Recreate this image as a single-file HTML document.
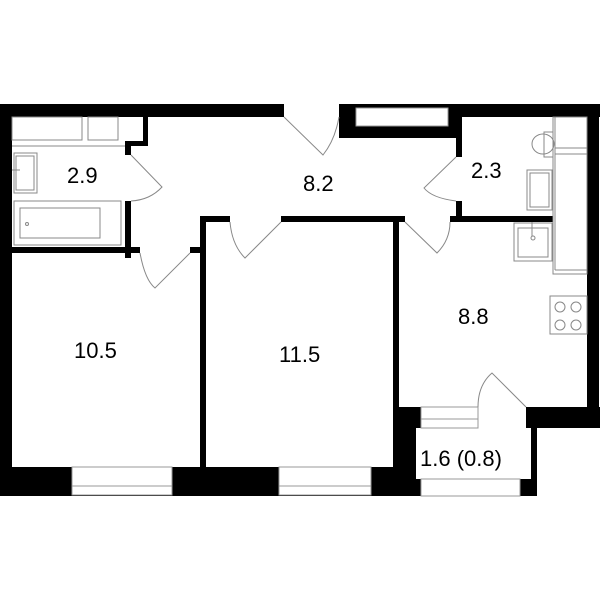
<!DOCTYPE html>
<html><head><style>html,body{margin:0;padding:0;background:#fff}svg{display:block}text{font-family:"Liberation Sans",sans-serif;font-size:22px;fill:#000}</style></head>
<body>
<svg width="600" height="600" viewBox="0 0 600 600" xmlns="http://www.w3.org/2000/svg">
<g fill="#000">
<rect x="0" y="104" width="12" height="392"/>
<rect x="0" y="104" width="284" height="13"/>
<rect x="339" y="104" width="261" height="13"/>
<rect x="339" y="104" width="123" height="34"/>
<rect x="587" y="104" width="12" height="324"/>
<rect x="143" y="117" width="5" height="29"/>
<rect x="125" y="141" width="23" height="5"/>
<rect x="125" y="141" width="6" height="14"/>
<rect x="125" y="201" width="6" height="57"/>
<rect x="12" y="247" width="128" height="6"/>
<rect x="190" y="247" width="15" height="6"/>
<rect x="200" y="216" width="6" height="252"/>
<rect x="200" y="216" width="30" height="6"/>
<rect x="281" y="216" width="124" height="6"/>
<rect x="393" y="216" width="6" height="192"/>
<rect x="450" y="216" width="103" height="6"/>
<rect x="456" y="117" width="6" height="40"/>
<rect x="456" y="201" width="6" height="21"/>
<rect x="0" y="467" width="421" height="29"/>
<rect x="393" y="407" width="28" height="89"/>
<rect x="526" y="407" width="74" height="21"/>
<rect x="531" y="407" width="6" height="89"/>
<rect x="516" y="479" width="21" height="17"/>
</g>
<g fill="#fff" stroke="#999" stroke-width="1">
<rect x="356" y="108" width="92" height="18"/>
<rect x="72" y="467" width="100" height="28"/><line x1="72" y1="486" x2="172" y2="486"/>
<rect x="279" y="467" width="92" height="28"/><line x1="279" y1="486" x2="371" y2="486"/>
<rect x="416" y="428" width="115" height="51" stroke="none"/>
<rect x="421" y="479" width="99" height="17"/>
<rect x="421" y="407" width="57" height="21"/><line x1="421" y1="419" x2="478" y2="419"/>
</g>
<g fill="none" stroke="#888" stroke-width="1">
<rect x="12" y="117" width="70" height="23"/>
<rect x="88" y="117" width="30" height="23"/>
<line x1="12" y1="146" x2="125" y2="146"/>
<rect x="14" y="153" width="23" height="40"/><rect x="16" y="156" width="18" height="34"/>
<line x1="12" y1="170" x2="20" y2="170"/>
<rect x="14" y="201" width="107" height="44"/><rect x="20" y="208" width="80" height="30"/>
<circle cx="27" cy="224" r="1.5"/>
<ellipse cx="543" cy="144" rx="11" ry="10"/><rect x="544" y="132" width="9" height="25"/>
<rect x="527" y="170" width="25" height="40"/><rect x="530" y="173" width="19" height="34"/>
<rect x="553" y="117" width="34" height="157"/>
<line x1="555" y1="148" x2="587" y2="148"/><line x1="555" y1="154" x2="587" y2="154"/>
<line x1="555" y1="117" x2="555" y2="270"/><line x1="555" y1="270" x2="587" y2="270"/>
<rect x="514" y="223" width="38" height="38"/><rect x="518" y="228" width="30" height="29"/>
<circle cx="533" cy="238" r="2"/><line x1="532" y1="222" x2="532" y2="236"/>
<rect x="550" y="296" width="37" height="38"/>
<circle cx="560" cy="307" r="5"/><circle cx="576" cy="307" r="5"/>
<circle cx="560" cy="325" r="5"/><circle cx="576" cy="325" r="5"/>
<path d="M131 155 L162 187 Q150 200 131 201"/>
<path d="M140 253 Q145 280 155 288 L190 253"/>
<path d="M230 222 Q232 245 245 258 L281 222"/>
<path d="M284 117 L323 155 Q335 140 339 117"/>
<path d="M456 157 L424 188 Q432 198 456 201"/>
<path d="M405 222 L437 253 Q450 240 450 222"/>
<path d="M478 407 Q478 385 492 373 L526 407"/>
</g>
<text x="67" y="183">2.9</text>
<text x="303" y="191">8.2</text>
<text x="471" y="178">2.3</text>
<text x="74" y="358">10.5</text>
<text x="279" y="362">11.5</text>
<text x="458" y="324">8.8</text>
<text x="420" y="466">1.6 (0.8)</text>
</svg>
</body></html>
